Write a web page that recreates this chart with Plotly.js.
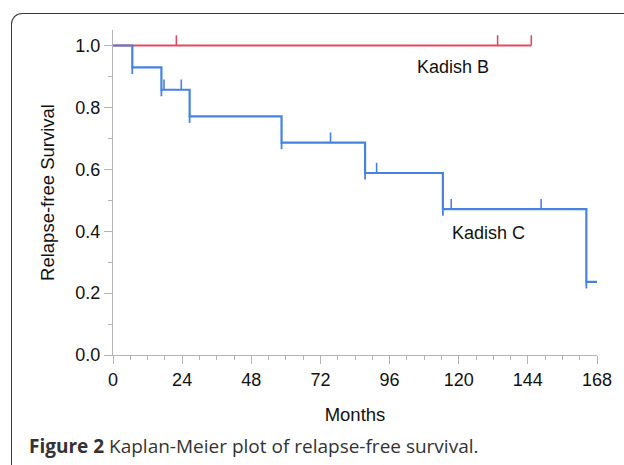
<!DOCTYPE html>
<html>
<head>
<meta charset="utf-8">
<script src="https://cdn.plot.ly/plotly-3.0.1.min.js"></script>
<style>
  html, body { margin: 0; padding: 0; background: #ffffff; }
  #wrap { position: relative; width: 624px; height: 465px; overflow: hidden; }
  #frame { position: absolute; left: 11px; top: 13px; width: 700px; height: 520px;
           border-left: 1.6px solid #3a3a3a; border-top: 1.6px solid #3a3a3a;
           border-top-left-radius: 11px; box-sizing: border-box; }
  #chart { position: absolute; left: 0; top: 0; width: 624px; height: 465px; }
</style>
</head>
<body>
<div id="wrap">
  <div id="frame"></div>
  <div id="chart"></div>
</div>
<script>
// Kadish C: event times (months) and survival after each event
const cTimes = [0, 6.7, 16.8, 26.6, 58.5, 87.5, 114.5, 164.3, 168];
const cSurv  = [1.0, 0.929, 0.857, 0.771, 0.686, 0.588, 0.471, 0.236, 0.236];
const cEventTimes = [6.7, 16.8, 26.6, 58.5, 87.5, 114.5, 164.3];
const cEventSurv  = [0.929, 0.857, 0.771, 0.686, 0.588, 0.471, 0.236];
const cCensorTimes = [17.7, 23.7, 75.5, 91.5, 117.4, 148.6];
const cCensorSurv  = [0.857, 0.857, 0.686, 0.588, 0.471, 0.471];

// Kadish B: no events
const bTimes = [0, 145.2];
const bSurv  = [1.0, 1.0];
const bCensorTimes = [22.0, 133.5, 145.2];
const bCensorSurv  = [1.0, 1.0, 1.0];

const xTickVals = [0, 24, 48, 72, 96, 120, 144, 168];
const yTickVals = [0.0, 0.2, 0.4, 0.6, 0.8, 1.0];

const RED = '#e24a63';
const BLUE = '#4683e0';
const AXIS = '#b4b4b4';
const FONT = 'Liberation Sans, Arial, Helvetica, sans-serif';
const TXT = '#111111';

const tickUp = (col) => ({type: 'constant', value: 0.033, valueminus: 0, symmetric: false,
                          width: 0, thickness: 1.6, color: col});

const traces = [
  {x: bTimes, y: bSurv, mode: 'lines', line: {color: RED, width: 2.2, shape: 'hv'},
   hoverinfo: 'skip', showlegend: false},
  {x: bCensorTimes, y: bCensorSurv, mode: 'markers', marker: {size: 1, color: 'rgba(0,0,0,0)'},
   error_y: tickUp(RED), hoverinfo: 'skip', showlegend: false},
  {x: cTimes, y: cSurv, mode: 'lines', line: {color: BLUE, width: 2.2, shape: 'hv'},
   hoverinfo: 'skip', showlegend: false},
  {x: cEventTimes, y: cEventSurv, mode: 'markers', marker: {size: 1, color: 'rgba(0,0,0,0)'},
   error_y: {type: 'constant', value: 0, valueminus: 0.021, symmetric: false,
             width: 0, thickness: 1.8, color: BLUE},
   hoverinfo: 'skip', showlegend: false},
  {x: cCensorTimes, y: cCensorSurv, mode: 'markers', marker: {size: 1, color: 'rgba(0,0,0,0)'},
   error_y: tickUp(BLUE), hoverinfo: 'skip', showlegend: false}
];

const layout = {
  width: 624, height: 465,
  margin: {l: 113, r: 27, t: 30, b: 110, pad: 0},
  paper_bgcolor: 'rgba(0,0,0,0)', plot_bgcolor: 'rgba(0,0,0,0)',
  font: {family: FONT, size: 18, color: TXT},
  xaxis: {
    range: [0, 168], tickvals: xTickVals, ticktext: xTickVals.map(String),
    ticks: 'outside', ticklen: 8, tickwidth: 1, tickcolor: AXIS,
    showline: true, linecolor: AXIS, linewidth: 1,
    showgrid: false, zeroline: false,
    minor: {dtick: 6, tick0: 0, ticks: 'outside', ticklen: 4, tickcolor: AXIS, showgrid: false},
    tickfont: {family: FONT, size: 18, color: TXT},
    title: {text: 'Months', font: {family: FONT, size: 18.5, color: TXT}, standoff: 19}
  },
  yaxis: {
    range: [0, 1.05], tickvals: yTickVals, tickformat: '.1f',
    ticks: 'outside', ticklen: 8, tickwidth: 1, tickcolor: AXIS,
    showline: true, linecolor: AXIS, linewidth: 1,
    showgrid: false, zeroline: false,
    minor: {dtick: 0.1, tick0: 0, ticks: 'outside', ticklen: 4, tickcolor: AXIS, showgrid: false},
    tickfont: {family: FONT, size: 18, color: TXT},
    title: {text: 'Relapse-free Survival', font: {family: FONT, size: 18.5, color: TXT}, standoff: 15}
  },
  annotations: [
    {text: 'Kadish B', x: 118, y: 0.93, xref: 'x', yref: 'y', showarrow: false,
     font: {family: FONT, size: 18, color: TXT}},
    {text: 'Kadish C', x: 130.5, y: 0.395, xref: 'x', yref: 'y', showarrow: false,
     font: {family: FONT, size: 18, color: TXT}},
    {text: '<b>Figure 2</b> Kaplan-Meier plot of relapse-free survival.',
     x: -0.178, y: -0.28, xref: 'paper', yref: 'paper', xanchor: 'left', yanchor: 'middle',
     showarrow: false, font: {family: 'Open Sans, Noto Sans, sans-serif', size: 19, color: '#333333'}}
  ]
};

Plotly.newPlot('chart', traces, layout, {displayModeBar: false, staticPlot: true});
</script>
</body>
</html>
